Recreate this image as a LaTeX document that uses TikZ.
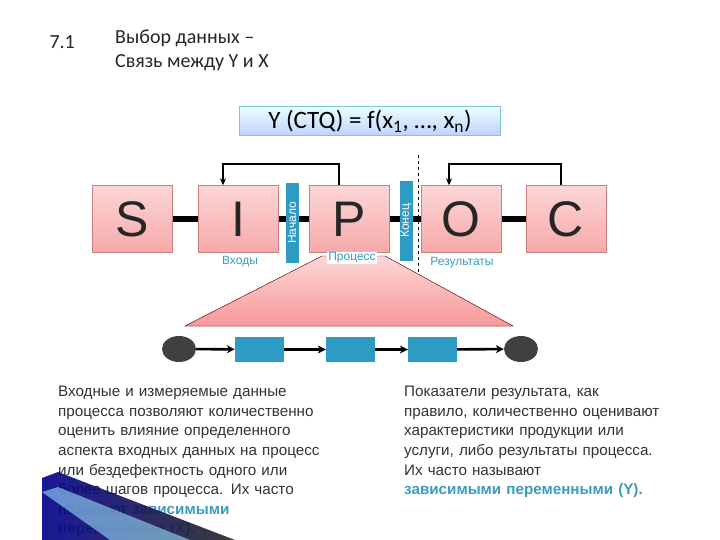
\documentclass[tikz,border=0pt]{standalone}
\usepackage{fontspec}
\setmainfont{Carlito}
\newfontfamily\bodyfont{Liberation Sans}
\usetikzlibrary{arrows.meta,shapes.geometric}
\definecolor{boxpink}{HTML}{F7A9A9}
\definecolor{boxpinktop}{HTML}{FCD6D6}
\definecolor{boxedge}{HTML}{C88080}
\definecolor{tealc}{HTML}{2E9CC2}
\definecolor{labc}{HTML}{3A9CC0}
\definecolor{txt}{HTML}{333333}
\tikzset{
  sipoc/.style={draw=boxedge, top color=boxpinktop, bottom color=boxpink, minimum width=80pt, minimum height=67pt, inner sep=0pt, font=\fontsize{50}{50}\selectfont\bodyfont, text=black!85},
  bar/.style={fill=tealc, minimum width=13pt, minimum height=80pt, inner sep=0pt, text=white, font=\fontsize{12}{12}\selectfont\bodyfont},
  lab/.style={text=labc, font=\fontsize{12}{12}\selectfont\bodyfont},
  link/.style={line width=6pt, black},
  fb/.style={line width=1.8pt, black, -{Stealth[length=7pt,width=6pt]}},
  step box/.style={fill=tealc, minimum width=49pt, minimum height=25pt, inner sep=0pt},
  term/.style={ellipse, fill=black!75, minimum width=34pt, minimum height=26pt, inner sep=0pt},
  flowar/.style={line width=2.6pt, black, -{Stealth[length=8pt,width=8pt]}},
  para/.style={text=txt, font=\fontsize{15.2}{19.6}\selectfont\bodyfont, align=left, anchor=north west, text width=320pt, inner sep=0pt},
}
\begin{document}
\begin{tikzpicture}[x=1pt,y=-1pt]
\useasboundingbox (0,0) rectangle (720,540);
\fill[white] (0,0) rectangle (720,540);
\node[anchor=west, font=\fontsize{20}{20}\selectfont, text=black!85] (num) at (46,42) {7.1};
\node[anchor=north west, align=left, font=\fontsize{20}{24}\selectfont, text=black!85, inner sep=0pt] (title) at (115,30) {Выбор данных –\\Связь между Y и X};
\node[draw=tealc!60, top color=cyan!8, bottom color=cyan!30!blue!25, minimum width=261pt, minimum height=29pt, inner sep=0pt, font=\fontsize{25}{25}\selectfont] (f) at (370,121) {Y (CTQ) = f(x\textsubscript{1}, …, x\textsubscript{n})};
\coordinate (sl) at (130,219);
\coordinate (cr) at (566,219);
\draw[link] (sl) -- (cr);
\draw[black, dashed, thin] (418,155) -- (418,290);
\node[sipoc] (S) at (132,219) {S};
\node[sipoc] (I) at (238,219) {I};
\node[sipoc] (P) at (349,219) {P};
\node[sipoc] (O) at (461,219) {O};
\node[sipoc] (C) at (566,219) {C};
\node[bar] (nach) at (292,223) {\rotatebox{90}{Начало}};
\node[bar] (kon) at (406,221) {\rotatebox{90}{Конец}};
\coordinate (t1) at (339,164);
\coordinate (t2) at (223,164);
\draw[fb] (P.north -| t1) -- (t1) -- (t2) -- (I.north -| t2);
\coordinate (t3) at (561,164);
\coordinate (t4) at (449,164);
\draw[fb] (C.north -| t3) -- (t3) -- (t4) -- (O.north -| t4);
\fill[top color=boxpinktop, bottom color=boxpink!90!red, draw=red!50!black, thin] (185,326) -- (322,256) -- (385,256) -- (513,326) -- cycle;
\node[lab] (in) at (240,262) {Входы};
\node[lab, fill=white, inner sep=1pt] (pr) at (352,258) {Процесс};
\node[lab] (res) at (462,263) {Результаты};
\node[term] (a) at (179,349) {};
\node[step box] (b1) at (259.5,349.5) {};
\node[step box] (b2) at (350.5,349.5) {};
\node[step box] (b3) at (432.5,349.5) {};
\node[term] (z) at (521,349) {};
\draw[flowar] (a) -- (b1);
\draw[flowar] (b1) -- (b2);
\draw[flowar] (b2) -- (b3);
\draw[flowar] (b3) -- (z);
\node[para] (lt) at (58,386) {Входные и измеряемые данные\\процесса позволяют количественно\\оценить влияние определенного\\аспекта входных данных на процесс\\или бездефектность одного или\\более шагов процесса. Их часто\\называют \textcolor{labc}{\textbf{зависимыми}}\\\textcolor{labc}{\textbf{переменными (X).}}};
\node[para] (rt) at (404,386) {Показатели результата, как\\правило, количественно оценивают\\характеристики продукции или\\услуги, либо результаты процесса.\\Их часто называют\\\textcolor{labc}{\textbf{зависимыми переменными (Y).}}};
\shade[left color=blue!55!black, right color=black!85, opacity=0.9] (42,478) -- (58,472) -- (235,540) -- (42,540) -- cycle;
\fill[cyan!40!white, opacity=0.6] (42,492) -- (58,487) -- (190,540) -- (110,540) -- cycle;
\end{tikzpicture}
\end{document}
